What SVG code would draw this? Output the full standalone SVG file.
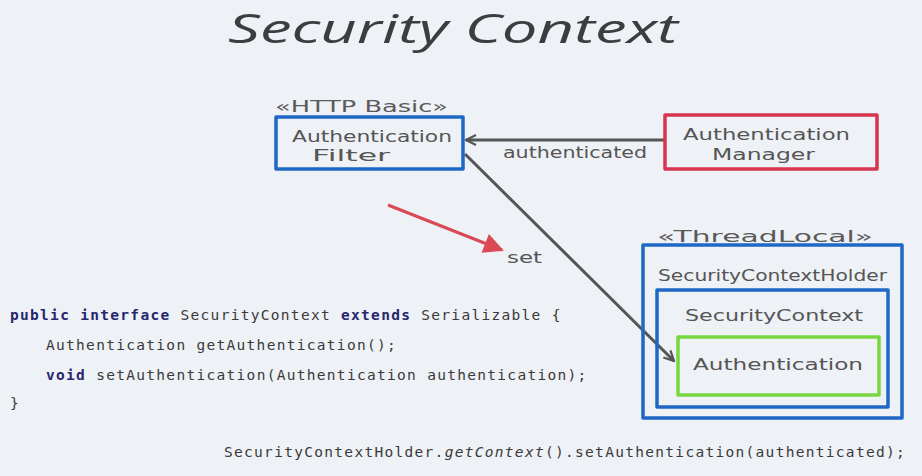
<svg xmlns="http://www.w3.org/2000/svg" width="922" height="476" viewBox="0 0 922 476">
  <defs>
    <style>
      .title { font-family: "Open Sans", "DejaVu Sans", sans-serif; font-style: italic; font-size: 40px; fill: #3b3d40; }
      .hand { font-family: "DejaVu Sans", "Liberation Sans", sans-serif; font-size: 16px; fill: #555; }
      .stereo { font-family: "DejaVu Sans", "Liberation Sans", sans-serif; font-size: 15px; fill: #5a5a5a; }
      .box { fill: none; stroke-width: 3.5; stroke-linejoin: round; }
      .blue { stroke: #1f68c6; }
      .red { stroke: #d7354f; }
      .green { stroke: #78d640; }
      .conn { fill: none; stroke: #555; stroke-width: 3; }
      .code { font-family: "DejaVu Sans Mono", "Liberation Mono", monospace; font-size: 14.5px; letter-spacing: 1.3px; fill: #3a3a3a; }
      .kw { font-weight: bold; fill: #27276e; }
    </style>
    <marker id="open" viewBox="0 0 12 12" refX="11" refY="6" markerWidth="12" markerHeight="12" markerUnits="userSpaceOnUse" orient="auto">
      <path d="M1,1 L11,6 L1,11" fill="none" stroke="#555" stroke-width="2.2"/>
    </marker>
    <marker id="redhead" viewBox="0 0 10 10" refX="9" refY="5" markerWidth="22" markerHeight="20" markerUnits="userSpaceOnUse" orient="auto">
      <path d="M0,0 L10,5 L0,10 Z" fill="#d94a55"/>
    </marker>
  </defs>

  <rect width="922" height="476" fill="#eef1f5"/>

  <text class="title" x="228" y="43" textLength="450" lengthAdjust="spacingAndGlyphs">Security Context</text>

  <!-- connectors -->
  <g id="connectors">
    <line class="conn" x1="664" y1="140" x2="466" y2="140" marker-end="url(#open)"/>
    <text class="hand" x="503" y="158" textLength="144" lengthAdjust="spacingAndGlyphs">authenticated</text>
    <line class="conn" x1="465" y1="154" x2="674" y2="361" marker-end="url(#open)"/>
    <line x1="388" y1="205" x2="502" y2="250" stroke="#d94a55" stroke-width="3" marker-end="url(#redhead)"/>
    <text class="hand" x="507" y="263" textLength="35" lengthAdjust="spacingAndGlyphs">set</text>
  </g>

  <!-- AuthenticationFilter -->
  <g id="authentication-filter">
    <text class="stereo" x="275" y="112" textLength="173" lengthAdjust="spacingAndGlyphs">«HTTP Basic»</text>
    <rect class="box blue" x="276" y="117" width="187" height="52"/>
    <text class="hand" x="292" y="142" textLength="160" lengthAdjust="spacingAndGlyphs">Authentication</text>
    <text class="hand" x="312" y="161" textLength="78" lengthAdjust="spacingAndGlyphs">Filter</text>
  </g>

  <!-- AuthenticationManager -->
  <g id="authentication-manager">
    <rect class="box red" x="665" y="115" width="212" height="54"/>
    <text class="hand" x="683" y="140" textLength="167" lengthAdjust="spacingAndGlyphs">Authentication</text>
    <text class="hand" x="712" y="160" textLength="103" lengthAdjust="spacingAndGlyphs">Manager</text>
  </g>

  <!-- SecurityContextHolder -->
  <g id="security-context-holder">
    <text class="stereo" x="657" y="242" textLength="216" lengthAdjust="spacingAndGlyphs">«ThreadLocal»</text>
    <rect class="box blue" x="643" y="245" width="259" height="173"/>
    <text class="hand" x="658" y="281" textLength="229" lengthAdjust="spacingAndGlyphs">SecurityContextHolder</text>
  </g>

  <!-- SecurityContext -->
  <g id="security-context">
    <rect class="box blue" x="657" y="290" width="231" height="117"/>
    <text class="hand" x="685" y="321" textLength="178" lengthAdjust="spacingAndGlyphs">SecurityContext</text>
  </g>

  <!-- Authentication -->
  <g id="authentication">
    <rect class="box green" x="678" y="337" width="201" height="58"/>
    <text class="hand" x="693" y="370" textLength="170" lengthAdjust="spacingAndGlyphs">Authentication</text>
  </g>

  <!-- interface listing -->
  <g id="code">
    <text class="code" x="10" y="320"><tspan class="kw">public</tspan> <tspan class="kw">interface</tspan> SecurityContext <tspan class="kw">extends</tspan> Serializable {</text>
    <text class="code" x="46" y="350">Authentication getAuthentication();</text>
    <text class="code" x="46" y="380"><tspan class="kw">void</tspan> setAuthentication(Authentication authentication);</text>
    <text class="code" x="10" y="408">}</text>
    <text class="code" x="224" y="457">SecurityContextHolder.<tspan font-style="italic">getContext</tspan>().setAuthentication(authenticated);</text>
  </g>
</svg>
